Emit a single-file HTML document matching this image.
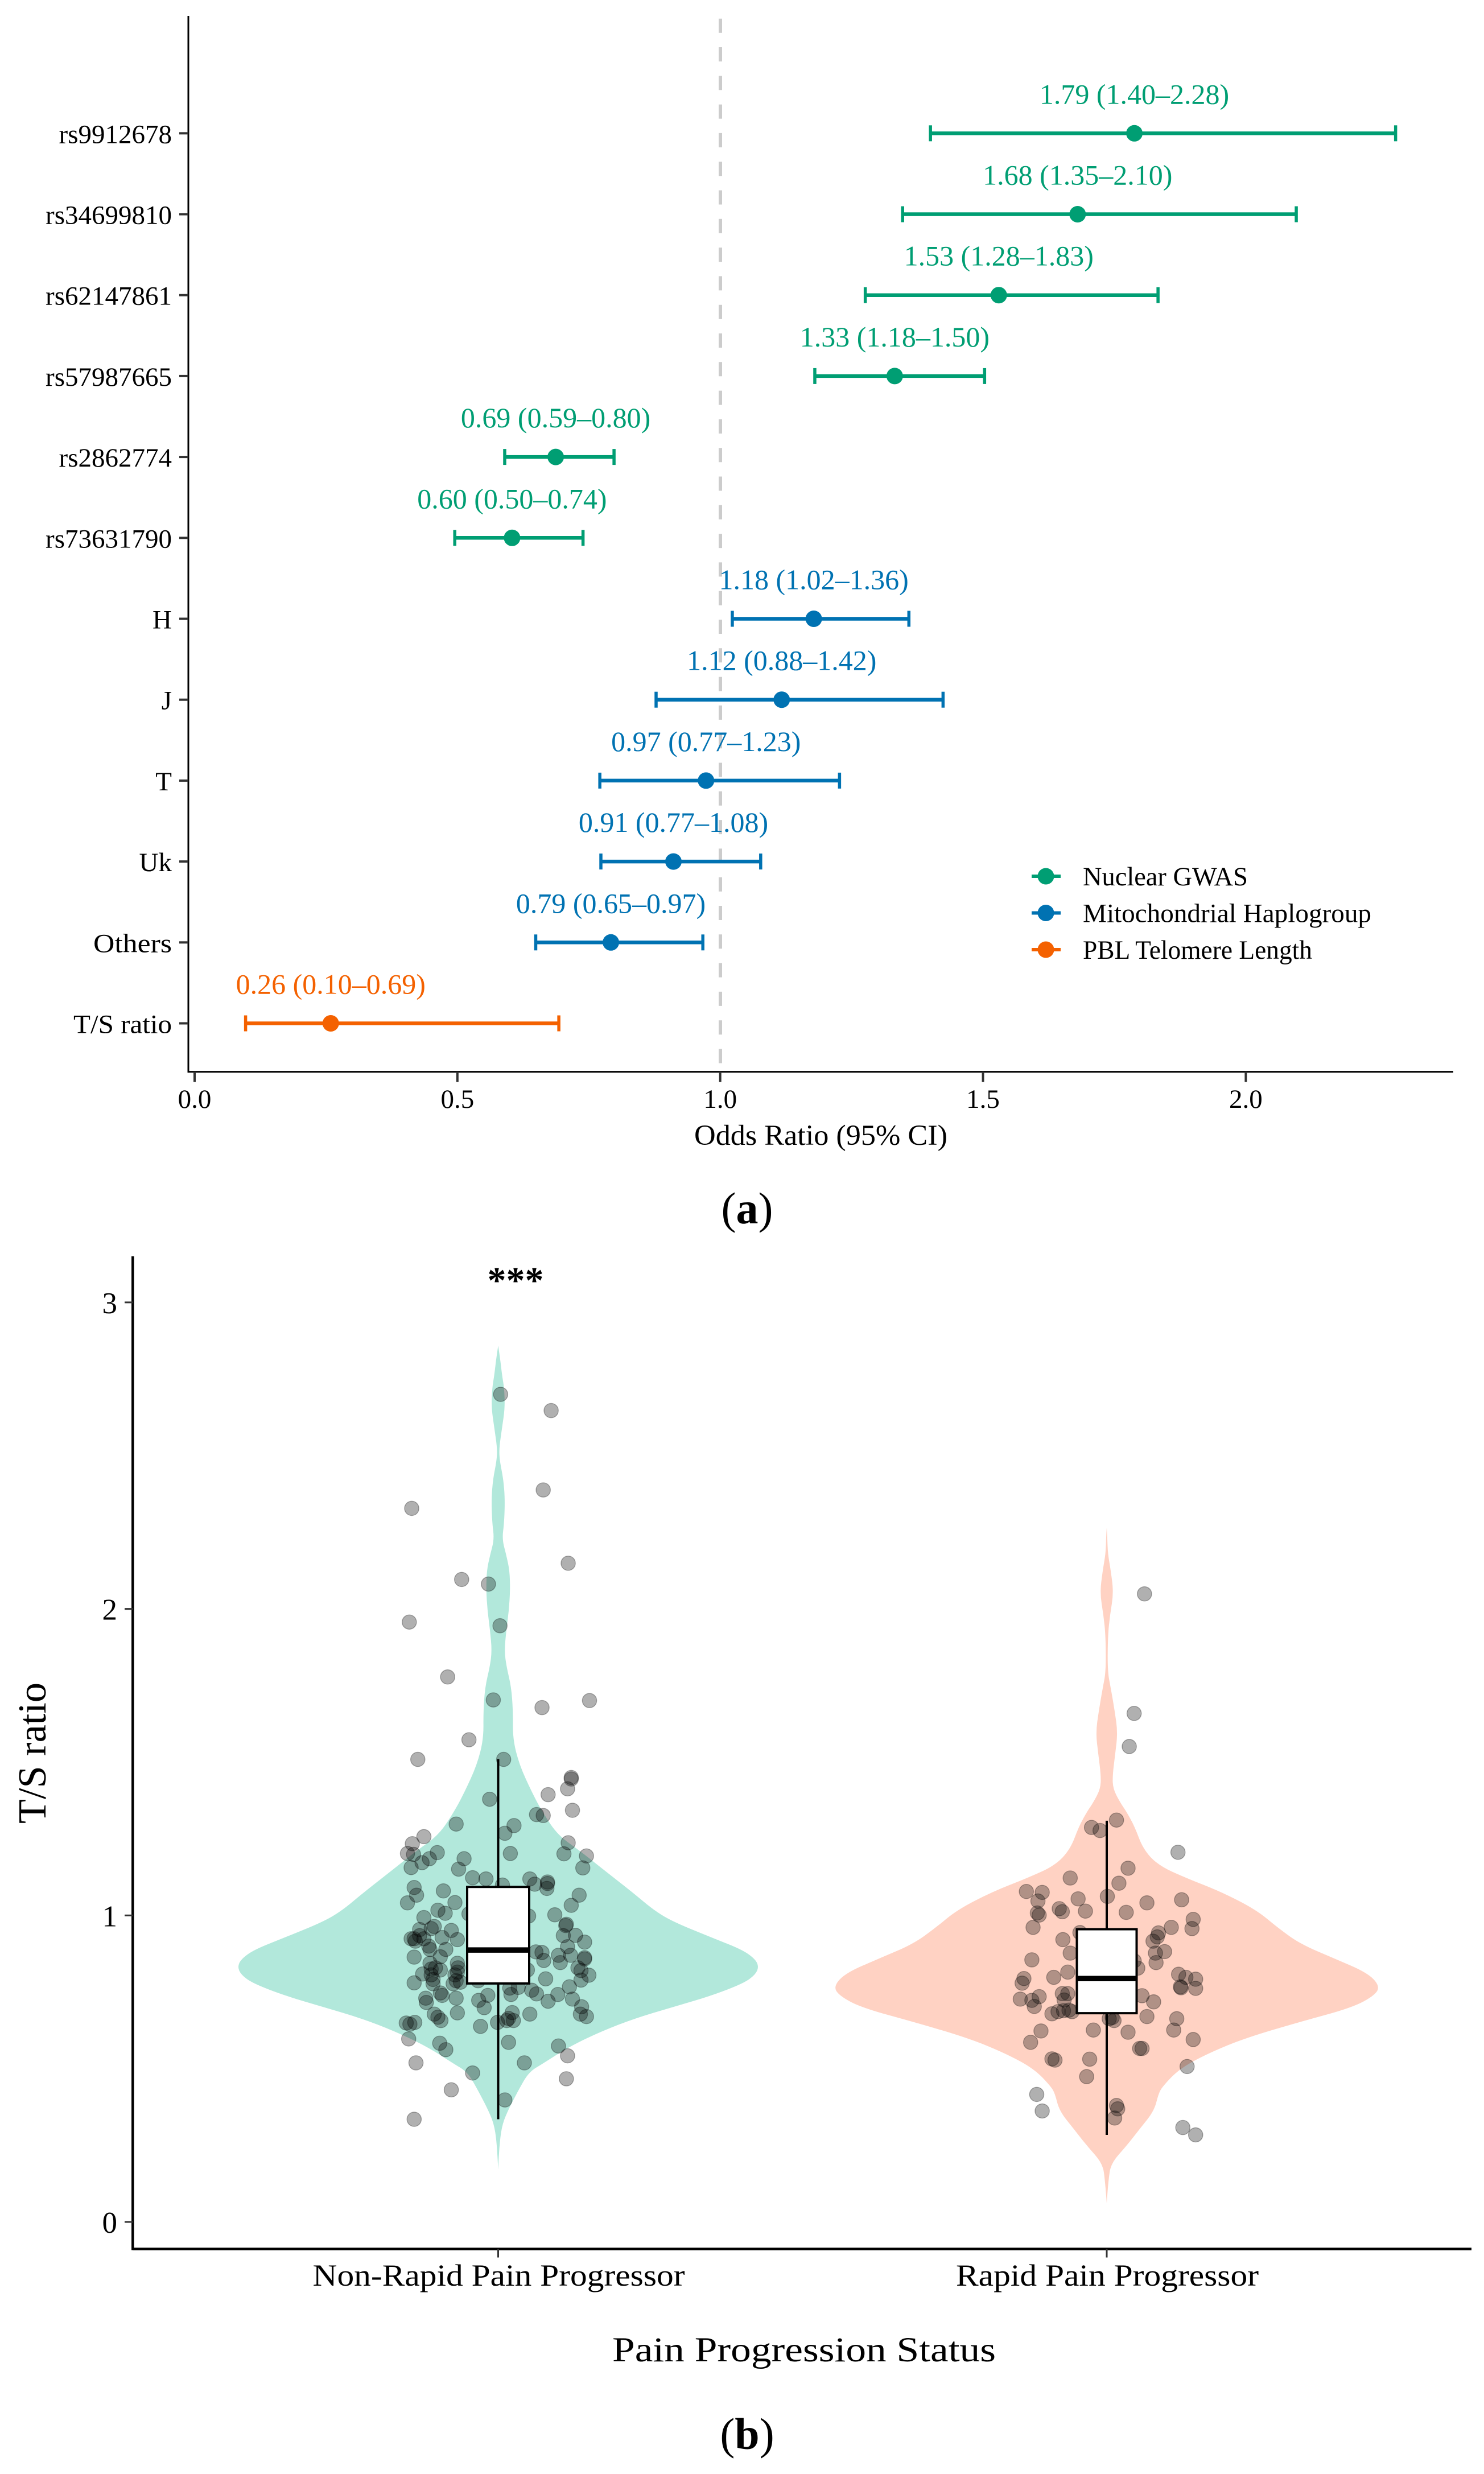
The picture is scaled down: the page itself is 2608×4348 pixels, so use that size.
<!DOCTYPE html>
<html lang="en">
<head>
<meta charset="utf-8">
<title>Forest plot and violin plot of T/S ratio</title>
<style>
html,body{margin:0;padding:0;background:#fff;}
svg{display:block;}
text{font-family:"Liberation Serif","DejaVu Serif",serif;fill:#000;}
</style>
</head>
<body>
<svg id="figure" xmlns="http://www.w3.org/2000/svg" width="2608" height="4348" viewBox="0 0 2608 4348">
  <rect x="0" y="0" width="2608" height="4348" fill="#ffffff"/>
  <g id="panelA"></g>
  <g id="panelB"></g>
  <text x="1313" y="2150" font-size="78" text-anchor="middle">(<tspan font-weight="700">a</tspan>)</text>
  <text x="1313" y="4304" font-size="78" text-anchor="middle">(<tspan font-weight="700">b</tspan>)</text>
</svg>
<script>
/* ---------- Panel (a) data ---------- */
const rowLabels = ["rs9912678","rs34699810","rs62147861","rs57987665","rs2862774","rs73631790","H","J","T","Uk","Others","T/S ratio"];
const orValues = [1.788,1.680,1.530,1.332,0.687,0.604,1.178,1.117,0.973,0.911,0.792,0.259];
const ciLow = [1.400,1.347,1.276,1.180,0.590,0.495,1.023,0.878,0.771,0.773,0.649,0.097];
const ciHigh = [2.285,2.096,1.833,1.503,0.798,0.739,1.359,1.424,1.227,1.077,0.967,0.693];
const printedLabels = ["1.79 (1.40–2.28)","1.68 (1.35–2.10)","1.53 (1.28–1.83)","1.33 (1.18–1.50)","0.69 (0.59–0.80)","0.60 (0.50–0.74)","1.18 (1.02–1.36)","1.12 (0.88–1.42)","0.97 (0.77–1.23)","0.91 (0.77–1.08)","0.79 (0.65–0.97)","0.26 (0.10–0.69)"];
const rowGroups = [0,0,0,0,0,0,1,1,1,1,1,2];
const groupNames = ["Nuclear GWAS","Mitochondrial Haplogroup","PBL Telomere Length"];
const groupColors = ["#009E73","#0072B2","#F46100"];
const oddsTicks = [0,0.5,1,1.5,2];

/* ---------- Panel (b) data ---------- */
const violinCategories = ["Non-Rapid Pain Progressor","Rapid Pain Progressor"];
const tsTicks = [0,1,2,3];

const nonRapidViolinTS = [2.859,2.813,2.761,2.722,2.657,2.592,2.527,2.488,2.423,2.358,2.280,2.228,2.176,2.124,2.059,1.994,1.929,1.863,1.811,1.746,1.667,1.576,1.492,1.402,1.334,1.262,1.213,1.154,1.077,1.015,0.978,0.928,0.888,0.857,0.832,0.807,0.779,0.739,0.702,0.665,0.622,0.572,0.517,0.489,0.432,0.356,0.309,0.242,0.171];
const nonRapidDensity = [0,0.008,0.015,0.023,0.026,0.015,0.004,0.005,0.020,0.026,0.023,0.015,0.031,0.044,0.046,0.041,0.031,0.024,0.032,0.050,0.057,0.056,0.081,0.129,0.172,0.229,0.310,0.397,0.513,0.600,0.675,0.819,0.937,0.987,1,0.987,0.943,0.821,0.675,0.528,0.397,0.273,0.172,0.118,0.079,0.033,0.013,0.004,0];

const rapidViolinTS = [2.265,2.237,2.180,2.124,2.052,1.981,1.910,1.797,1.740,1.668,1.597,1.527,1.455,1.413,1.370,1.340,1.290,1.216,1.163,1.123,1.077,1.018,0.959,0.906,0.860,0.813,0.770,0.739,0.699,0.652,0.600,0.550,0.500,0.442,0.418,0.362,0.304,0.249,0.191,0.134,0.061];
const rapidDensity = [0,0.002,0.004,0.015,0.025,0.012,0.004,0.003,0.015,0.029,0.040,0.031,0.021,0.023,0.048,0.071,0.102,0.133,0.189,0.287,0.418,0.547,0.626,0.709,0.830,0.952,0.998,0.979,0.896,0.703,0.507,0.370,0.266,0.204,0.189,0.173,0.121,0.073,0.015,0.006,0];

const nonRapidJitter = [0.004,0.087,-0.142,0.074,0.115,-0.060,-0.016,-0.146,0.003,-0.083,-0.008,0.150,0.072,-0.048,-0.132,0.009,-0.014,0.120,0.120,0.082,0.114,0.122,0.063,0.074,-0.069,0.026,0.011,-0.122,-0.141,-0.149,-0.139,0.115,0.145,0.108,0.020,-0.100,-0.113,-0.125,-0.143,-0.056,-0.065,0.139,-0.042,-0.020,0.007,0.052,0.060,0.081,0.081,0.080,-0.138,-0.134,-0.149,-0.090,-0.071,-0.099,-0.087,0.133,0.120,0.093,-0.048,0.050,-0.122,0.112,0.111,-0.105,-0.129,-0.110,-0.077,0.107,0.127,0.142,-0.138,-0.143,-0.136,-0.129,-0.122,-0.092,-0.067,-0.114,-0.112,-0.086,0.114,-0.138,-0.095,0.062,0.072,0.075,0.099,0.102,0.119,0.142,0.142,-0.112,-0.110,-0.103,-0.095,-0.124,-0.110,-0.107,-0.107,-0.067,-0.066,-0.071,-0.069,-0.074,-0.062,-0.067,0.048,0.131,0.136,0.149,0.136,-0.138,0.078,-0.033,0.117,0.098,0.033,0.019,0.021,0.055,0.063,0.082,-0.095,-0.119,-0.118,-0.092,-0.069,-0.017,-0.032,-0.023,0.122,0.137,0.135,0.145,0.023,-0.105,-0.099,-0.094,-0.067,0.052,0.017,0.014,-0.001,0.025,-0.029,-0.151,-0.145,-0.137,-0.147,0.017,-0.096,-0.086,0.099,0.114,-0.135,0.043,-0.042,0.112,-0.077,0.011,-0.138];
const nonRapidTS = [2.700,2.647,2.328,2.388,2.149,2.096,2.081,1.957,1.945,1.778,1.703,1.701,1.678,1.573,1.509,1.509,1.379,1.450,1.445,1.394,1.413,1.343,1.329,1.326,1.298,1.293,1.268,1.257,1.234,1.202,1.199,1.237,1.194,1.201,1.202,1.205,1.185,1.172,1.156,1.185,1.151,1.155,1.123,1.119,1.099,1.119,1.102,1.109,1.104,1.088,1.091,1.066,1.041,1.080,1.042,1.017,1.007,1.066,1.033,1.002,1.005,0.998,0.993,0.971,0.967,0.964,0.954,0.957,0.951,0.934,0.935,0.913,0.924,0.924,0.916,0.934,0.924,0.928,0.921,0.900,0.889,0.889,0.898,0.864,0.865,0.881,0.879,0.853,0.870,0.846,0.870,0.862,0.858,0.844,0.825,0.829,0.822,0.809,0.806,0.791,0.777,0.844,0.829,0.806,0.787,0.777,0.782,0.815,0.822,0.829,0.820,0.805,0.789,0.780,0.793,0.787,0.767,0.742,0.765,0.763,0.742,0.756,0.744,0.720,0.747,0.730,0.716,0.739,0.730,0.739,0.723,0.699,0.727,0.702,0.678,0.670,0.683,0.678,0.668,0.657,0.682,0.678,0.664,0.657,0.651,0.657,0.638,0.649,0.645,0.651,0.597,0.586,0.583,0.562,0.574,0.542,0.519,0.519,0.486,0.467,0.431,0.398,0.335];

const rapidJitter = [0.062,0.045,0.037,0.016,-0.025,-0.011,0.117,0.035,-0.060,0.020,-0.132,-0.106,-0.113,-0.047,0.001,0.066,0.123,-0.078,-0.073,-0.035,0.032,-0.114,-0.111,0.142,0.140,-0.121,0.106,-0.044,0.085,0.083,0.076,-0.072,-0.060,0.095,0.080,0.081,-0.123,0.051,0.045,-0.064,-0.087,0.118,0.130,0.146,-0.136,-0.139,0.121,0.122,0.146,-0.142,-0.111,-0.123,-0.119,-0.073,-0.064,-0.070,0.058,0.077,-0.090,-0.080,-0.071,-0.062,-0.057,0.066,0.004,0.009,0.012,0.115,0.110,-0.108,-0.022,0.035,0.142,-0.125,0.054,0.058,-0.090,-0.085,-0.028,0.132,-0.033,-0.115,-0.106,0.016,0.018,0.013,0.125,0.146];
const rapidTS = [2.049,1.659,1.551,1.311,1.287,1.277,1.206,1.154,1.122,1.105,1.078,1.075,1.047,1.054,1.062,1.041,1.051,1.022,1.012,1.014,1.010,1.008,1.001,0.987,0.957,0.961,0.961,0.944,0.943,0.930,0.916,0.921,0.877,0.882,0.877,0.846,0.855,0.828,0.852,0.815,0.798,0.808,0.798,0.792,0.794,0.779,0.767,0.764,0.762,0.727,0.735,0.723,0.703,0.745,0.745,0.724,0.738,0.718,0.679,0.686,0.689,0.691,0.686,0.670,0.663,0.667,0.657,0.663,0.626,0.623,0.626,0.619,0.595,0.586,0.566,0.566,0.532,0.528,0.531,0.507,0.474,0.416,0.362,0.380,0.369,0.339,0.308,0.284];

const boxQ1 = [0.778,0.681];
const boxMedian = [0.887,0.794];
const boxQ3 = [1.093,0.955];
const whiskerLow = [0.335,0.284];
const whiskerHigh = [1.510,1.309];

/* ---------- helpers ---------- */
const SVG_NS = "http://www.w3.org/2000/svg";
function make(parent, tag, attrs, content) {
  const el = document.createElementNS(SVG_NS, tag);
  for (const key in attrs) el.setAttribute(key, attrs[key]);
  if (content !== undefined) el.textContent = content;
  parent.appendChild(el);
  return el;
}
function slug(s) { return s.toLowerCase().replace(/[^a-z0-9]+/g, "-").replace(/^-|-$/g, ""); }

/* ---------- Panel (a) ---------- */
const panelA = document.getElementById("panelA");
const oddsX = v => 342 + v * 923.7;
const rowY = i => 234.3 + i * 142.2;
const axisAX = 331, axisABottom = 1883.6, axisATop = 28, axisARight = 2554;
const fittedRowLabels = {"Others":138, "T/S ratio":173};
const legendTextWidths = [290, 507, 403];

let el = make(panelA, "line", {x1:1266, x2:1266, y1:32.7, y2:axisABottom, stroke:"#CCCCCC", "stroke-width":6, "stroke-dasharray":"25 25.3"});



el = make(panelA, "line", {x1:axisAX, x2:axisAX, y1:axisATop, y2:axisABottom + 1.5, stroke:"#000", "stroke-width":3});



el = make(panelA, "line", {x1:axisAX, x2:axisARight, y1:axisABottom, y2:axisABottom, stroke:"#000", "stroke-width":3});



rowLabels.forEach((label, i) => {
  const y = rowY(i);
  const color = groupColors[rowGroups[i]];
  const key = slug(label);

  const tick = make(panelA, "line", {x1:315, x2:axisAX, y1:y, y2:y, stroke:"#333", "stroke-width":4});
  
  

  const tl = make(panelA, "text", {x:302, y:y + 17, "font-size":47, "text-anchor":"end"}, label);
  if (fittedRowLabels[label]) { tl.setAttribute("textLength", fittedRowLabels[label]); tl.setAttribute("lengthAdjust", "spacingAndGlyphs"); }
  
  

  const bar = make(panelA, "line", {x1:oddsX(ciLow[i]), x2:oddsX(ciHigh[i]), y1:y, y2:y, stroke:color, "stroke-width":6.5});
  
  

  const capL = make(panelA, "line", {x1:oddsX(ciLow[i]), x2:oddsX(ciLow[i]), y1:y - 14, y2:y + 14, stroke:color, "stroke-width":5.5});
  
  

  const capH = make(panelA, "line", {x1:oddsX(ciHigh[i]), x2:oddsX(ciHigh[i]), y1:y - 14, y2:y + 14, stroke:color, "stroke-width":5.5});
  
  

  const dot = make(panelA, "circle", {cx:oddsX(orValues[i]), cy:y, r:14.5, fill:color});
  
  

  const val = make(panelA, "text", {x:oddsX(orValues[i]), y:y - 52, "font-size":50, "text-anchor":"middle", style:"fill:" + color}, printedLabels[i]);
  
  
});

oddsTicks.forEach(v => {
  const x = oddsX(v);
  const tick = make(panelA, "line", {x1:x, x2:x, y1:axisABottom, y2:axisABottom + 18, stroke:"#333", "stroke-width":4});
  
  

  const tl = make(panelA, "text", {x:x, y:1947, "font-size":47, "text-anchor":"middle"}, v.toFixed(1));
  
  
});

el = make(panelA, "text", {x:1442.5, y:2012, "font-size":51, "text-anchor":"middle", textLength:445, lengthAdjust:"spacingAndGlyphs"}, "Odds Ratio (95% CI)");



groupNames.forEach((name, i) => {
  const y = 1540 + i * 64.5;
  const key = slug(name);
  const line = make(panelA, "line", {x1:1813, x2:1864, y1:y, y2:y, stroke:groupColors[i], "stroke-width":6});
  
  

  const dot = make(panelA, "circle", {cx:1838, cy:y, r:14.5, fill:groupColors[i]});
  
  

  const txt = make(panelA, "text", {x:1903, y:y + 16, "font-size":47, textLength:legendTextWidths[i], lengthAdjust:"spacingAndGlyphs"}, name);
  
  
});

/* ---------- Panel (b) ---------- */
const panelB = document.getElementById("panelB");
const tsY = v => 3905 - v * 538.7;
const categoryX = i => 875.5 + i * 1069.5;
const jitterX = (i, j) => categoryX(i) + j * 1070;
const axisBX = 233.3, axisBBottom = 3952.5, axisBTop = 2208, axisBRight = 2586;

function smoothPath(pts) {
  let d = "M" + pts[0][0].toFixed(1) + " " + pts[0][1].toFixed(1);
  for (let k = 1; k < pts.length - 1; k++) {
    const mx = (pts[k][0] + pts[k + 1][0]) / 2;
    const my = (pts[k][1] + pts[k + 1][1]) / 2;
    d += "Q" + pts[k][0].toFixed(1) + " " + pts[k][1].toFixed(1) + " " + mx.toFixed(1) + " " + my.toFixed(1);
  }
  const last = pts[pts.length - 1];
  return d + "L" + last[0].toFixed(1) + " " + last[1].toFixed(1);
}
function drawViolin(index, tsValues, density, maxHalfWidth, fill, name) {
  const cx = categoryX(index);
  const right = tsValues.map((t, k) => [cx + density[k] * maxHalfWidth, tsY(t)]);
  const left = tsValues.map((t, k) => [cx - density[k] * maxHalfWidth, tsY(t)]).reverse();
  const shape = make(panelB, "path", {d:smoothPath(right) + smoothPath(left).replace(/^M/, "L") + "Z", fill:fill});
  
  
}
function drawPoints(index, jitter, ts, name) {
  jitter.forEach((j, k) => {
    const pt = make(panelB, "circle", {cx:jitterX(index, j), cy:tsY(ts[k]), r:12.6, fill:"#000", "fill-opacity":0.31, stroke:"#000", "stroke-opacity":0.3, "stroke-width":1.4});
    
    
  });
}
function drawBox(index, name) {
  const cx = categoryX(index);
  const halfW = index === 0 ? 54.5 : 52.5;
  const w = make(panelB, "line", {x1:cx, x2:cx, y1:tsY(whiskerHigh[index]), y2:tsY(whiskerLow[index]), stroke:"#000", "stroke-width":4});
  
  

  const r = make(panelB, "rect", {x:cx - halfW, y:tsY(boxQ3[index]), width:halfW * 2, height:tsY(boxQ1[index]) - tsY(boxQ3[index]), fill:"#fff", stroke:"#000", "stroke-width":4});
  
  

  const m = make(panelB, "line", {x1:cx - halfW, x2:cx + halfW, y1:tsY(boxMedian[index]), y2:tsY(boxMedian[index]), stroke:"#000", "stroke-width":9.5});
  
  
}

drawViolin(0, nonRapidViolinTS, nonRapidDensity, 458, "#B2E8DB", "violin-non-rapid");
drawViolin(1, rapidViolinTS, rapidDensity, 481, "#FFD2C3", "violin-rapid");
drawPoints(0, nonRapidJitter, nonRapidTS, "point-non-rapid");
drawPoints(1, rapidJitter, rapidTS, "point-rapid");
drawBox(0, "non-rapid");
drawBox(1, "rapid");

el = make(panelB, "line", {x1:axisBX, x2:axisBX, y1:axisBTop, y2:axisBBottom + 2, stroke:"#000", "stroke-width":4.5});



el = make(panelB, "line", {x1:axisBX, x2:axisBRight, y1:axisBBottom, y2:axisBBottom, stroke:"#000", "stroke-width":4.5});



tsTicks.forEach(v => {
  const y = tsY(v);
  const tick = make(panelB, "line", {x1:219, x2:axisBX, y1:y, y2:y, stroke:"#333", "stroke-width":3});
  
  

  const tl = make(panelB, "text", {x:206, y:y + 19, "font-size":53, "text-anchor":"end"}, String(v));
  
  
});

const categoryTextLength = [654, 532];
violinCategories.forEach((name, i) => {
  const x = categoryX(i);
  const tick = make(panelB, "line", {x1:x, x2:x, y1:axisBBottom, y2:axisBBottom + 15, stroke:"#333", "stroke-width":3});
  
  

  const tl = make(panelB, "text", {x:x + 1, y:4017, "font-size":54, "text-anchor":"middle", textLength:categoryTextLength[i], lengthAdjust:"spacingAndGlyphs"}, name);
  
  
});

el = make(panelB, "text", {x:1413, y:4150, "font-size":61, "text-anchor":"middle", textLength:674, lengthAdjust:"spacingAndGlyphs"}, "Pain Progression Status");



el = make(panelB, "text", {x:0, y:0, "font-size":70, "text-anchor":"middle", textLength:248, lengthAdjust:"spacingAndGlyphs", transform:"translate(80 3081) rotate(-90)"}, "T/S ratio");



el = make(panelB, "text", {x:906, y:2272, "font-size":66, "font-weight":700, "text-anchor":"middle"}, "***");


</script>
</body>
</html>
